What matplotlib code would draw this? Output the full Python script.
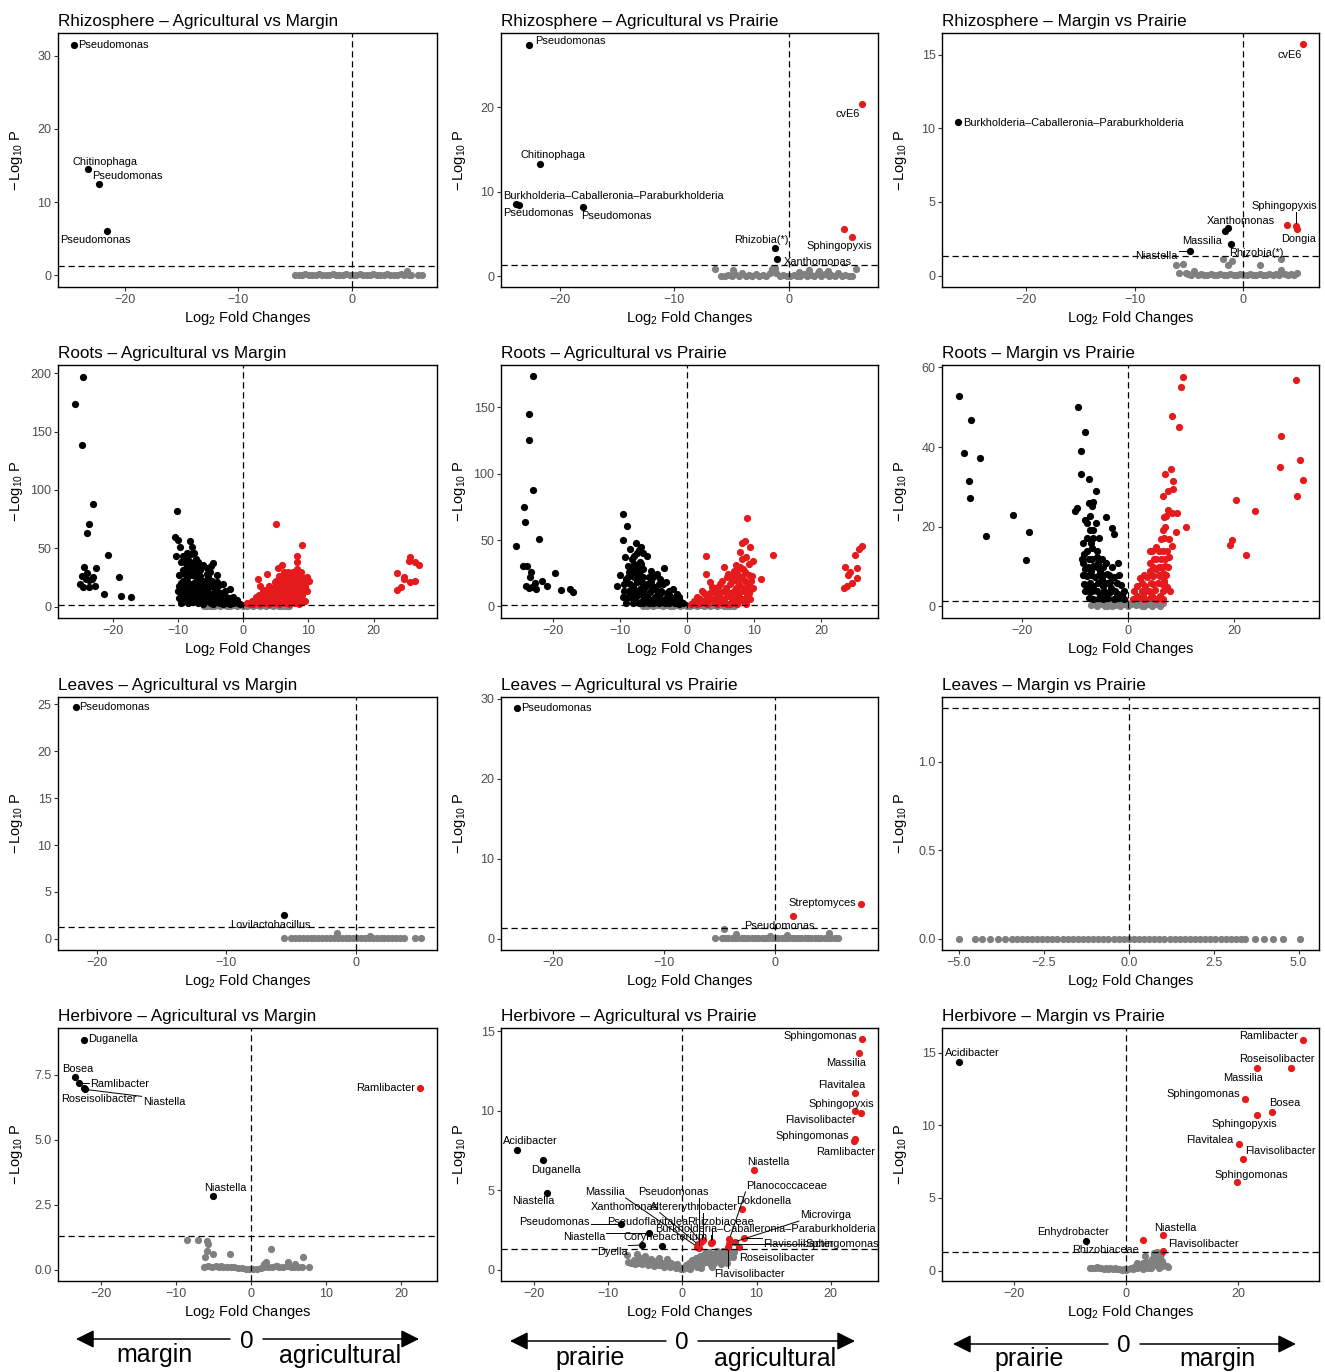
import matplotlib
matplotlib.use('Agg')
import matplotlib.pyplot as plt
from matplotlib.patches import FancyArrowPatch, ArrowStyle
import numpy as np

plt.rcParams['font.family'] = ['Liberation Sans', 'DejaVu Sans']
plt.rcParams['mathtext.fontset'] = 'custom'
plt.rcParams['mathtext.rm'] = 'Liberation Sans'
plt.rcParams['mathtext.it'] = 'Liberation Sans:italic'
plt.rcParams['mathtext.bf'] = 'Liberation Sans:bold'

# ======================= DATA =======================
TITLES = [
    'Rhizosphere – Agricultural vs Margin', 'Rhizosphere – Agricultural vs Prairie', 'Rhizosphere – Margin vs Prairie',
    'Roots – Agricultural vs Margin', 'Roots – Agricultural vs Prairie', 'Roots – Margin vs Prairie',
    'Leaves – Agricultural vs Margin', 'Leaves – Agricultural vs Prairie', 'Leaves – Margin vs Prairie',
    'Herbivore – Agricultural vs Margin', 'Herbivore – Agricultural vs Prairie', 'Herbivore – Margin vs Prairie',
]
BKC = 'Burkholderia–Caballeronia–Paraburkholderia'

# ---- Rhizosphere: Agricultural vs Margin ----
rhz_am_pts = [(-5.0,0.05),(-4.7,0.1),(-4.4,0.05),(-4.1,0.15),(-3.8,0.05),(-3.5,0.1),(-3.2,0.05),(-2.9,0.2),
              (-2.6,0.05),(-2.3,0.1),(-2.0,0.05),(-1.7,0.15),(-1.4,0.05),(-1.1,0.1),(-0.8,0.05),(-0.5,0.2),
              (-0.2,0.05),(0.1,0.1),(0.4,0.05),(0.7,0.15),(1.0,0.05),(1.3,0.1),(1.6,0.05),(1.9,0.2),(2.2,0.05),
              (2.5,0.1),(2.8,0.05),(3.1,0.15),(3.4,0.05),(3.7,0.1),(4.0,0.05),(4.3,0.2),(4.6,0.05),(4.9,0.55),
              (5.0,0.1),(5.2,0.05),(5.8,0.05),(6.2,0.05)]
rhz_am_lab = ['Pseudomonas', 'Chitinophaga', 'Pseudomonas', 'Pseudomonas']
rhz_am_lab_lfc = [-24.5, -23.3, -22.3, -21.6]
rhz_am_lab_nlp = [31.4, 14.5, 12.5, 6.0]

# ---- Rhizosphere: Agricultural vs Prairie ----
rhz_ap_pts = [(-6.46,0.8),(-5.9,0.05),(-5.6,0.05),(-5.3,0.1),(-5.0,0.05),(-4.86,0.75),(-4.7,0.25),(-4.4,0.05),
              (-4.1,0.3),(-3.8,0.05),(-3.5,0.1),(-3.2,0.05),(-2.9,0.2),(-2.6,0.05),(-2.3,0.1),(-2.0,0.05),
              (-1.7,0.3),(-1.45,0.8),(-1.2,1.0),(-1.1,0.4),(-0.8,0.05),(-0.5,0.15),(-0.2,0.05),(0.1,0.05),
              (0.4,0.1),(0.7,0.05),(0.9,0.5),(1.0,0.05),(1.3,0.2),(1.6,0.05),(1.77,0.7),(1.9,0.1),(2.2,0.05),
              (2.5,0.3),(2.6,0.55),(2.8,0.05),(3.1,0.2),(3.4,0.6),(3.5,0.05),(3.7,0.15),(4.0,0.05),(4.3,0.3),
              (4.6,0.05),(4.9,0.1),(5.2,0.05),(5.5,0.05),(5.85,0.8),(4.8,5.6)]
rhz_ap_lab = ['Pseudomonas', 'Chitinophaga', BKC, 'Pseudomonas', 'Pseudomonas', 'cvE6', 'Sphingopyxis',
              'Rhizobia(*)', 'Xanthomonas']
rhz_ap_lab_lfc = [-22.7, -21.75, -23.8, -23.6, -18.0, 6.4, 5.5, -1.2, -1.05]
rhz_ap_lab_nlp = [27.4, 13.3, 8.5, 8.4, 8.2, 20.4, 4.6, 3.3, 2.0]

# ---- Rhizosphere: Margin vs Prairie ----
rhz_mp_pts = [(-6.2,0.7),(-5.9,0.15),(-5.5,0.8),(-5.3,0.15),(-5.1,0.1),(-4.8,0.05),(-4.5,0.3),(-4.2,0.05),
              (-3.9,0.1),(-3.6,0.05),(-3.3,0.05),(-3.0,0.1),(-2.7,0.05),(-2.4,0.05),(-2.1,0.1),(-1.9,1.1),
              (-1.8,0.05),(-1.5,0.05),(-1.4,0.7),(-1.2,0.1),(-1.0,1.0),(-0.9,0.05),(-0.6,0.05),(-0.3,0.1),
              (0.0,0.05),(0.3,0.05),(0.6,0.1),(0.9,0.05),(1.2,0.05),(1.5,0.7),(1.5,0.1),(1.8,0.05),(2.1,0.05),
              (2.4,0.1),(2.7,0.05),(3.0,0.1),(3.3,0.05),(3.5,1.1),(3.5,0.4),(3.8,0.1),(4.1,0.05),(4.4,0.1),
              (4.7,0.05),(4.9,0.15),(4.05,3.46)]
rhz_mp_lab = [BKC, 'cvE6', 'Sphingopyxis', 'Dongia', 'Xanthomonas', 'Massilia', 'Rhizobia(*)', 'Niastella']
rhz_mp_lab_lfc = [-26.2, 5.5, 4.85, 4.96, -1.4, -1.7, -1.16, -4.9]
rhz_mp_lab_nlp = [10.4, 15.7, 3.35, 3.17, 3.2, 3.0, 2.15, 1.65]

# ---- Roots: Agricultural vs Margin ----
roots_am_pts = [
    (-24.5,197),(-25.8,174),(-24.7,138.5),(-23.0,88),(-23.6,71),(-23.9,63),(-20.8,44),(-22.5,33),(-24.4,34),
    (-23.9,29),(-24.7,26),(-24.1,24),(-23.2,24),(-23.7,23),(-24.6,17),(-23.7,17),(-22.7,18),(-19.0,25),
    (-21.4,11),(-18.7,9),(-17.2,8),(-23.0,25),(-25.0,19),
    (-10.2,82),(-10.5,60),(-10.0,57),(-9.7,51),(-8.2,56),(-7.9,51),(-10.3,43.5),(-9.3,43.5),(-9.0,38),
    (-7.2,41),(-4.6,37),(-8.4,35),(-6.1,36),(-9.8,27),(-7.7,31),(-6.6,31.5),(-5.1,30),(-8.7,25),(-7.1,23.5),
    (-5.4,25),(-4.1,21),(-3.1,19),(-8.9,18),(-7.1,16.5),(-6.1,15),(-4.6,16.5),(-2.1,15),(-7.9,12),(-6.6,11),
    (-5.1,11),(-3.6,12),(-1.5,8),(-8.4,6.5),(-7.1,5),(-5.6,5),(-4.1,6),(-2.6,5),(-1.3,4),(-0.8,3),(-7.7,3.7),
    (-6.1,2.3),(-4.6,2.3),(-3.1,2.0),(-2.0,2.0),(-8.7,9),(-7.4,21),(-5.9,19),(-6.6,26),(-8.2,19),(-4.9,6.5),
    (-3.8,9.4),(-2.8,9.4),(-9.4,12),(-8.7,29),(-9.5,20),(-9.0,14),(-8.5,10),(-8.0,8),(-7.5,14),(-7.0,10),
    (-6.5,7),(-6.0,9),(-5.5,14),(-5.0,20),(-4.5,12),(-4.0,3.5),(-3.5,6),(-3.0,4),(-2.5,3),(-1.8,6),(-1.0,5.5),
    (-0.5,2),(-6.8,18),(-7.9,27),(-5.8,22),(-6.3,3.5),(-9.2,31),(-8.0,45),(-8.5,40),(-7.5,36),(-6.9,33),
    (-4.0,27),(-5.0,35),
    (-9.5,3),(-8.5,3),(-7.0,3),(-5.0,3),(-3.5,3),(-1.5,3),(-9.8,7),(-9.0,7),(-7.8,7),(-6.8,7),(-5.3,7),
    (-4.5,7),(-3.3,7),(-2.2,7),(-10.0,13),(-9.2,13),(-8.3,13),(-6.8,13),(-5.8,13),(-4.2,13),(-2.8,13),
    (-9.8,18),(-8.2,18),(-6.3,18),(-5.2,18),(-3.8,18),(-9.3,22),(-8.6,22),(-6.3,22),(-4.8,22),(-9.0,28),
    (-8.3,28),(-7.2,28),(-5.6,28),(-8.8,33),(-7.8,33),(-5.5,33),(-9.6,38),(-8.1,38),(-6.9,38),(-8.6,46),(-7.5,46),
    (4.95,71),(9.0,52.6),(8.2,43),(8.3,38),(6.0,35.5),(5.4,32.7),(8.3,32),(3.6,28),(2.3,24),(9.8,25),
    (10.1,21.6),(6.6,26.5),(7.7,25),(7.1,20.8),(6.1,18),(4.8,20.8),(2.6,18),(5.6,15),(7.1,15),(8.7,15),
    (9.7,13),(4.3,12),(3.1,11),(6.6,11),(7.9,11),(2.0,8),(3.6,8),(5.4,8),(6.9,8),(8.4,8),(9.4,5),(1.3,5),
    (2.6,5),(4.1,5),(5.9,5),(7.4,5),(0.5,3),(1.8,3),(3.3,3),(4.8,3),(6.6,3),(7.9,3),(5.1,12),(6.4,22),
    (7.4,28),(8.2,19),(8.9,19),(5.9,25),(7.7,6.5),(4.6,9.4),(6.1,9.4),(1.0,2),(1.5,4),(2.2,6),(2.8,9),
    (3.8,13),(4.5,15.5),(5.2,18.5),(6.0,12),(6.8,14),(7.5,17),(8.0,22),(8.8,26),(7.2,10),(8.5,11),(9.0,4),
    (6.3,6),(5.6,10),(4.9,6),(3.0,13),(5.3,22),(7.8,30),(6.9,30),(8.6,28),(9.5,18),
    (1.5,2),(2.5,2),(4.0,2),(5.5,2),(7.0,2),(8.5,2),(1.8,6),(3.0,6),(4.3,6),(5.2,6),(6.0,6),(7.3,6),(8.2,6),
    (9.2,6),(2.4,10),(3.4,10),(4.9,10),(6.3,10),(7.5,10),(9.0,10),(3.4,14),(4.3,14),(5.3,14),(6.2,14),
    (7.6,14),(8.3,14),(9.2,14),(4.0,18),(5.5,18),(6.8,18),(7.6,18),(9.5,18),(5.0,22),(6.0,22),(7.3,22),
    (8.5,22),(9.3,22),(5.5,26),(6.3,26),(7.1,26),(8.1,26),(6.2,30),(7.6,30),(8.8,30),
    (25.6,42.7),(25.4,39),(26.3,38),(27.0,35.5),(23.6,28.7),(24.6,24),(26.3,21.6),(25.5,20.8),(24.2,17),
    (23.5,14),(24.7,25),
    (-6.0,0.1),(-5.5,0.4),(-5.0,0.7),(-4.5,0.3),(-4.0,1.0),(-3.5,0.5),(-3.0,1.1),(-2.5,0.3),(-2.0,0.8),
    (-1.5,1.2),(-1.0,0.5),(-0.5,0.9),(0.0,0.1),(0.5,0.8),(1.0,1.2),(1.5,0.4),(2.0,1.0),(2.5,0.6),(3.0,1.1),
    (3.5,0.3),(4.0,0.9),(4.5,0.5),(5.0,1.1),(5.5,0.3),(6.0,0.7),(6.5,0.2),(7.0,0.5)]

# ---- Roots: Agricultural vs Prairie ----
roots_ap_pts = [
    (-23.0,173),(-23.5,144.5),(-23.5,125),(-22.9,87.6),(-24.2,75),(-24.1,63.6),(-22.1,50.7),(-25.4,45.7),
    (-24.4,30.7),(-23.8,30.2),(-23.3,25.7),(-23.4,22),(-21.6,19.5),(-22.6,17.7),(-23.9,15.2),(-23.1,14.5),
    (-22.5,13.2),(-20.9,15.7),(-19.7,25),(-18.8,12.5),(-17.4,13.2),(-17.0,11.2),(-23.6,14.2),
    (-9.5,69.9),(-8.9,60.6),(-9.5,49.7),(-7.6,47.4),(-7.1,42.4),(-6.0,37.7),(-9.2,37.4),(-8.2,35.7),
    (-3.4,28.7),(-7.0,33.2),(-8.7,30.7),(-8.0,29.4),(-6.5,28.2),(-10.0,24),(-7.5,23.2),(-5.7,22),(-4.0,20.7),
    (-3.1,18.2),(-10.4,15.2),(-8.0,15.7),(-6.2,14.5),(-4.7,14.5),(-2.0,13.2),(-1.5,9.5),(-8.2,9.5),(-7.0,9.5),
    (-5.5,10.7),(-4.0,9.5),(-2.5,8.2),(-8.0,5.7),(-6.5,5.2),(-5.0,5.2),(-3.5,5.2),(-2.0,5.2),(-1.0,4.5),
    (-7.2,2.7),(-5.7,2.7),(-4.2,2.7),(-2.7,2.7),(-1.2,2.2),(-7.5,18.2),(-9.0,20.7),(-7.0,27),(-4.5,24.5),
    (-7.0,13.2),(-8.5,8.2),(-4.2,17),(-8.6,26),(-7.8,38),(-6.8,20),(-6.0,17),(-5.2,13),(-7.6,11),(-6.3,8),
    (-5.8,6.5),(-4.8,7.5),(-3.8,12),(-3.0,10.5),(-2.4,4),(-1.6,6.5),(-0.6,2.5),(-6.6,3.8),(-8.4,43),
    (-6.8,45),(-7.3,31),(-5.3,18.5),
    (-9.0,3),(-8.0,3),(-6.5,3),(-5.0,3),(-3.2,3),(-1.8,3),(-9.5,7),(-8.8,7),(-7.6,7),(-6.1,7),(-4.4,7),
    (-3.0,7),(-1.2,7),(-9.4,12),(-8.6,12),(-7.7,12),(-6.6,12),(-4.4,12),(-2.6,12),(-9.3,17),(-8.4,17),
    (-6.6,17),(-5.6,17),(-3.6,17),(-8.7,22),(-7.8,22),(-6.6,22),(-5.0,22),(-8.3,27),(-7.6,27),(-5.4,27),
    (-7.8,32),(-6.8,32),(-7.4,40),(-6.6,40),
    (8.9,66.4),(8.6,49),(8.2,47.4),(9.4,44.4),(8.0,40.7),(2.8,37.9),(12.9,38.9),(9.9,33.9),(8.2,35.7),
    (9.2,32),(5.5,29.4),(7.0,27),(8.0,29.4),(2.9,24.5),(11.1,20.7),(9.7,23.2),(6.0,22),(7.2,20.7),(8.2,22),
    (3.5,18.2),(5.0,17),(6.5,17),(8.0,15.7),(9.2,15.7),(2.2,12),(4.0,12),(5.5,12),(7.0,12),(8.5,12),(1.5,7),
    (3.0,8.2),(4.5,8.2),(6.0,8.2),(7.5,8.2),(9.0,8.2),(1.0,4.5),(2.5,4.5),(4.0,4.5),(5.5,4.5),(7.0,3.7),
    (8.5,3.7),(2.0,2.7),(5.2,2.7),(6.5,2.0),(7.7,18.2),(6.2,24.5),(8.7,25.7),(4.7,14.5),(0.6,2.2),(3.3,6),
    (4.3,10),(5.8,14),(6.6,10),(7.8,6),(8.9,10),(9.6,13),(7.4,31),(8.8,37),(6.8,23),(5.0,6.2),(3.8,15),
    (2.6,10),
    (1.5,2),(3.0,2),(4.5,2),(6.0,2),(7.5,2),(8.8,2),(2.0,6),(3.8,6),(5.3,6),(6.8,6),(8.3,6),(9.4,6),
    (3.4,10),(4.9,10),(6.3,10),(7.8,10),(9.3,10),(4.2,14),(5.8,14),(7.3,14),(8.6,14),(9.8,14),(5.3,19),
    (6.8,19),(8.6,19),(9.5,19),(6.8,24),(7.6,24),(9.2,24),(7.6,28),(8.4,28),
    (26.1,45.2),(25.6,43.2),(25.1,38.9),(23.6,29.4),(25.4,28.7),(24.4,26.2),(24.1,23.7),(25.4,21.2),
    (24.6,17.7),(23.9,15.7),(23.4,14),
    (-6.5,0.2),(-6.0,0.6),(-5.5,1.0),(-5.0,0.3),(-4.5,0.8),(-4.0,1.2),(-3.5,0.4),(-3.0,0.9),(-2.5,0.2),
    (-2.0,0.7),(-1.5,1.1),(-1.0,0.3),(-0.5,0.8),(0.0,0.1),(0.5,0.6),(1.0,1.0),(1.5,0.3),(2.0,0.9),(2.5,0.5),
    (3.0,1.1),(3.5,0.3),(4.0,0.8),(4.5,0.4),(5.0,1.0),(5.5,0.2),(6.0,0.6),(6.5,0.3),(7.0,0.2)]

# ---- Roots: Margin vs Prairie ----
roots_mp_pts = [
    (-32.0,52.9),(-29.7,46.9),(-31.1,38.6),(-28.1,37.3),(-30.1,31.5),(-30.0,27.2),(-21.7,23.0),(-26.9,17.7),
    (-18.8,18.7),(-19.4,11.7),
    (-9.6,50.1),(-8.2,43.7),(-8.9,39.1),(-8.9,33.2),(-7.5,32.0),(-6.2,29.0),(-10.1,23.9),(-9.7,24.6),
    (-7.4,26.0),(-6.6,26.2),(-6.9,25.1),(-4.3,22.5),(-3.0,19.8),(-2.8,18.1),(-8.2,21.6),(-7.2,22.8),
    (-6.7,19.1),(-7.9,17.3),(-6.6,17.1),(-5.5,17.1),(-6.9,14.6),(-8.4,13.1),(-7.5,11.9),(-6.0,12.5),
    (-4.2,10.9),(-1.9,10.8),(-8.2,9.4),(-6.6,10.2),(-5.3,9.0),(-7.9,7.7),(-6.3,7.3),(-4.1,8.1),(-2.8,7.3),
    (-8.4,5.6),(-6.6,5.2),(-4.7,5.2),(-1.4,5.4),(-7.2,3.6),(-5.3,3.2),(-3.5,3.6),(-1.9,3.2),(-6.6,1.9),
    (-4.7,1.9),(-2.8,1.9),(-0.9,1.9),(-5.7,11.0),(-8.5,11.0),(-7.2,19.3),(-5.0,6.9),(-3.5,6.1),(-7.8,4.5),
    (-6.0,4.0),(-4.0,3.0),(-2.2,2.5),(-5.5,8.0),(-7.0,9.0),(-3.2,4.6),(-1.2,2.8),
    (-7.5,2),(-5.5,2),(-3.8,2),(-1.8,2),(-8.2,4),(-6.8,4),(-4.6,4),(-2.6,4),(-0.8,4),(-7.3,6),(-5.8,6),
    (-4.0,6),(-2.2,6),(-8.6,8),(-7.0,8),(-4.8,8),(-3.6,8),(-1.8,8),(-7.7,10),(-6.0,10),(-4.7,10),(-3.0,10),
    (-8.8,12),(-6.8,12),(-5.0,12),(-7.8,14),(-6.0,14),(-8.5,16),(-7.0,16),(-7.8,21),(-6.2,21),
    (10.4,57.5),(9.9,55.0),(8.3,47.7),(9.6,45.0),(8.1,34.5),(7.0,33.3),(8.5,31.4),(7.5,29.1),(8.5,29.5),
    (6.6,27.8),(7.4,24.1),(8.3,23.5),(9.2,23.5),(10.8,20.0),(6.7,22.5),(7.1,22.8),(6.6,19.2),(9.0,18.7),
    (6.7,17.3),(8.2,15.2),(4.1,13.9),(5.3,15.0),(4.4,13.9),(6.5,13.8),(4.0,11.0),(6.1,11.9),(7.7,12.3),
    (6.9,10.2),(5.3,9.4),(2.2,7.1),(3.5,7.3),(6.0,7.7),(1.6,5.1),(3.1,5.2),(4.7,5.6),(6.3,5.6),(7.2,4.8),
    (1.6,2.7),(2.8,2.7),(4.4,2.7),(6.0,2.7),(7.9,4.0),(0.9,1.9),(5.3,11.9),(4.7,7.7),(6.6,8.5),(2.5,4.0),
    (3.8,3.8),(5.0,4.2),(6.8,6.3),(4.0,9.0),(5.8,10.0),(3.0,1.9),(5.2,1.9),(6.5,1.9),
    (2.0,2),(4.0,2),(5.8,2),(1.0,4),(3.2,4),(6.6,4),(2.5,6),(4.2,6),(5.5,6),(6.8,6),(3.0,8),(4.5,8),(5.8,8),
    (7.1,8),(4.6,10),(6.2,10),(7.4,10),(4.9,12),(7.0,12),(5.8,14),(7.3,14),(6.2,17),(7.6,17),(7.0,20),
    (31.6,56.9),(28.9,42.9),(32.5,36.7),(28.6,34.9),(33.0,31.7),(31.8,27.6),(20.4,26.7),(24.0,24.0),
    (19.6,16.7),(19.2,15.4),(22.2,12.9),
    (-7.0,0.3),(-6.5,0.8),(-6.0,0.2),(-5.5,1.0),(-5.0,0.5),(-4.5,0.9),(-4.0,0.2),(-3.5,0.7),(-3.0,1.1),
    (-2.5,0.4),(-2.0,0.9),(-1.5,0.2),(-1.0,0.6),(-0.5,1.0),(0.0,0.1),(0.5,0.7),(1.0,1.1),(1.5,0.3),(2.0,0.8),
    (2.5,0.2),(3.0,1.0),(3.5,0.5),(4.0,0.9),(4.5,0.2),(5.0,0.7),(5.5,1.1),(6.0,0.4),(6.5,0.8),(-6.0,1.2),
    (-3.0,0.1),(3.0,0.1),(6.0,0.1),(-4.5,0.0),(1.5,1.2)]

# ---- Leaves: Agricultural vs Margin ----
lv_am_pts = [(-5.55,0.05),(-5.0,0.05),(-4.7,0.05),(-4.4,0.05),(-4.1,0.05),(-3.8,0.05),(-3.5,0.05),(-3.2,0.05),
             (-2.9,0.05),(-2.6,0.05),(-2.3,0.05),(-2.0,0.05),(-1.7,0.05),(-1.44,0.64),(-1.4,0.05),(-1.1,0.05),
             (-0.8,0.05),(-0.5,0.05),(-0.2,0.05),(0.1,0.05),(0.4,0.05),(0.7,0.05),(1.0,0.05),(1.08,0.3),
             (1.3,0.05),(1.6,0.05),(1.9,0.05),(2.2,0.05),(2.5,0.05),(2.8,0.05),(3.1,0.05),(3.4,0.05),(3.7,0.05),
             (4.55,0.05),(5.0,0.05)]
lv_am_lab = ['Pseudomonas', 'Lovilactobacillus']
lv_am_lab_lfc = [-21.6, -5.55]
lv_am_lab_nlp = [24.7, 2.5]

# ---- Leaves: Agricultural vs Prairie ----
lv_ap_pts = [(-5.41,0.05),(-4.8,0.05),(-4.57,1.25),(-4.5,0.05),(-4.2,0.05),(-3.9,0.05),(-3.55,0.54),(-3.6,0.05),
             (-3.3,0.05),(-3.0,0.05),(-2.7,0.05),(-2.4,0.05),(-2.1,0.05),(-1.8,0.05),(-1.5,0.05),(-1.2,0.05),
             (-0.9,0.05),(-0.6,0.05),(-0.45,0.33),(-0.3,0.05),(0.0,0.05),(0.3,0.05),(0.6,0.05),(0.9,0.05),
             (1.05,0.42),(1.2,0.05),(1.5,0.05),(1.8,0.05),(2.1,0.05),(2.4,0.05),(2.7,0.05),(3.0,0.05),(3.3,0.05),
             (3.6,0.05),(3.9,0.05),(4.2,0.05),(4.5,0.05),(4.8,0.05),(4.9,0.67),(5.1,0.05),(5.4,0.05),(5.7,0.05)]
lv_ap_lab = ['Pseudomonas', 'Streptomyces', 'Pseudomonas']
lv_ap_lab_lfc = [-23.3, 7.8, 1.65]
lv_ap_lab_nlp = [28.8, 4.37, 2.79]

# ---- Leaves: Margin vs Prairie ----
lv_mp_lfc = [-5.0,-4.53,-4.33,-4.09,-3.86,-3.65,-3.45,-3.3,-3.15,-3.0,-2.85,-2.7,-2.55,-2.4,-2.25,-2.1,-1.95,
             -1.8,-1.65,-1.5,-1.35,-1.2,-1.05,-0.9,-0.75,-0.6,-0.45,-0.3,-0.15,0.0,0.15,0.3,0.45,0.6,0.75,0.9,
             1.05,1.2,1.35,1.5,1.65,1.8,1.95,2.1,2.25,2.4,2.55,2.7,2.85,3.0,3.15,3.3,3.42,3.71,3.98,4.24,4.53,5.03]
lv_mp_nlp = [0.0] * len(lv_mp_lfc)

# ---- Herbivore: Agricultural vs Margin ----
hb_am_pts = [(-6.2,0.1),(-5.7,0.12),(-5.2,0.1),(-4.7,0.12),(-4.2,0.1),(-3.7,0.1),(-3.2,0.1),(-2.7,0.08),
             (-2.2,0.08),(-1.7,0.06),(-1.2,0.05),(-0.7,0.03),(-0.2,0.02),(0.3,0.02),(0.8,0.04),(1.3,0.06),
             (1.8,0.08),(2.3,0.1),(2.8,0.1),(3.3,0.12),(3.8,0.1),(4.3,0.1),(4.8,0.12),(5.3,0.1),(5.8,0.1),
             (6.3,0.1),(6.8,0.1),(-8.5,1.14),(-7.1,1.14),(-5.8,1.1),(-5.7,1.0),(-5.8,0.7),(-6.1,0.5),(-5.0,0.6),
             (-2.8,0.6),(2.7,0.8),(7.0,0.5),(7.7,0.1),(2.0,0.3),(1.8,0.2),(5.0,0.3),(5.9,0.2),(-4.0,0.15),
             (3.5,0.15)]
hb_am_lab = ['Duganella', 'Bosea', 'Ramlibacter', 'Roseisolibacter', 'Niastella', 'Niastella', 'Ramlibacter']
hb_am_lab_lfc = [-22.3, -23.4, -22.9, -22.3, -22.1, -5.1, 22.6]
hb_am_lab_nlp = [8.82, 7.4, 7.18, 7.0, 6.93, 2.83, 6.99]

# ---- Herbivore: Agricultural vs Prairie ----
hb_ap_pts = [(-7.5,0.95),(-7.4,0.5),(-7.0,0.4),(-6.6,0.6),(-6.2,1.0),(-6.0,0.45),(-5.7,0.75),(-5.4,0.35),
             (-5.0,0.9),(-5.0,0.55),(-4.6,0.3),(-4.3,0.7),(-4.0,0.4),(-3.6,0.55),(-3.2,0.77),(-3.2,0.3),
             (-2.8,0.45),(-2.5,0.2),(-2.1,0.69),(-2.0,0.35),(-1.7,0.15),(-1.5,0.45),(-1.2,0.25),(-0.9,0.1),
             (-0.8,0.35),(-0.5,0.15),(-0.2,0.05),(-4.5,0.5),(-6.4,0.35),(-3.8,0.25),
             (0.1,0.03),(0.3,0.15),(0.5,0.3),(0.8,0.1),(0.9,0.45),(1.2,0.25),(1.3,0.6),(1.6,0.4),(1.8,0.75),
             (2.0,0.2),(2.2,0.55),(2.4,0.9),(2.7,0.35),(2.8,0.7),(3.0,1.05),(3.2,0.5),(3.4,0.85),(3.6,1.15),
             (3.8,0.3),(3.9,0.65),(4.1,1.0),(4.3,0.45),(4.5,0.8),(4.6,1.2),(4.8,0.6),(5.0,1.0),(5.2,0.35),
             (5.3,0.8),(5.5,1.2),(5.7,0.6),(5.9,1.0),(6.1,0.75),(6.3,1.2),(6.5,0.95),(6.8,0.8),(7.0,1.1),
             (6.0,0.4),(4.0,0.15),(1.0,0.05),(2.5,0.1)]
hb_ap_lab = ['Sphingomonas', 'Massilia', 'Flavitalea', 'Sphingopyxis', 'Flavisolibacter', 'Sphingomonas',
             'Ramlibacter', 'Niastella', 'Dokdonella', 'Planococcaceae', 'Microvirga', 'Flavisolibacter',
             'Sphingomonas', 'Roseisolibacter', 'Flavisolibacter', BKC, 'Rhizobiaceae', 'Altererythrobacter',
             'Pseudoflavitalea', 'Pseudomonas', 'Massilia', 'Xanthomonas', 'Acidibacter', 'Duganella',
             'Niastella', 'Pseudomonas', 'Niastella', 'Dyella', 'Corynebacterium']
hb_ap_lab_lfc = [24.2, 23.8, 23.3, 24.1, 23.3, 23.3, 23.1, 9.7, 8.1, 6.35, 7.1, 8.25, 6.35, 7.6, 6.2,
                 3.8, 4.0, 2.8, 2.5, 2.3, 2.0, 2.1, -22.3, -18.8, -18.3, -8.3, -4.46, -5.5, -2.8]
hb_ap_lab_nlp = [14.5, 13.6, 11.1, 9.85, 9.96, 8.2, 8.1, 6.3, 3.85, 1.94, 1.77, 1.98, 1.63, 1.42, 1.42,
                 1.7, 1.78, 1.9, 1.75, 1.35, 1.45, 1.6, 7.56, 6.9, 4.85, 2.88, 2.31, 1.56, 1.52]

# ---- Herbivore: Margin vs Prairie ----
hb_mp_pts = [(-6.4,0.18),(-6.0,0.2),(-5.6,0.15),(-5.2,0.22),(-4.8,0.15),(-4.4,0.2),(-4.0,0.12),(-3.6,0.2),
             (-3.2,0.12),(-2.8,0.18),(-2.4,0.1),(-2.0,0.15),(-1.6,0.08),(-1.2,0.12),(-0.8,0.05),(-0.4,0.08),
             (0.0,0.02),(0.4,0.08),(0.8,0.15),(1.2,0.1),(1.5,0.25),(1.9,0.5),(2.0,0.15),(2.4,0.3),(2.8,0.2),
             (3.0,0.5),(3.3,0.98),(3.5,0.3),(3.8,0.6),(4.0,0.2),(4.3,0.45),(4.6,0.8),(4.9,1.2),(5.0,0.35),
             (5.3,0.7),(5.5,1.25),(5.7,0.5),(6.0,1.0),(6.1,0.87),(6.2,1.15),(6.4,0.64),(6.5,0.3),(6.8,0.4),
             (7.25,0.3),(7.5,0.25),(5.0,1.05),(4.4,0.15),(3.0,0.1),(5.8,0.2)]
hb_mp_lab = ['Ramlibacter', 'Roseisolibacter', 'Massilia', 'Sphingomonas', 'Bosea', 'Sphingopyxis', 'Flavitalea',
             'Flavisolibacter', 'Sphingomonas', 'Niastella', 'Rhizobiaceae', 'Flavisolibacter', 'Acidibacter',
             'Enhydrobacter']
hb_mp_lab_lfc = [31.6, 29.4, 23.3, 21.2, 26.0, 23.3, 20.1, 20.8, 19.8, 6.65, 2.97, 6.65, -29.8, -7.13]
hb_mp_lab_nlp = [15.9, 13.97, 13.92, 11.84, 10.95, 10.7, 8.72, 7.65, 6.07, 2.43, 2.13, 1.33, 14.38, 2.06]

# direction words under each column
ARROW_WORDS = [('margin', 'agricultural'), ('prairie', 'agricultural'), ('prairie', 'margin')]

P_CUTOFF = 0.05

# ======================= LAYOUT =======================
W, H = 1325, 1372
COL_L = [58, 501, 942]
COL_R = [437, 878, 1319]
ROW_T = [33, 365, 697, 1028]
ROW_B = [287, 618, 950, 1281]

LIMITS = [
    ((-25.9, 7.5), (-1.58, 33.1)), ((-25.15, 7.77), (-1.3, 28.8)), ((-27.7, 6.96), (-0.78, 16.48)),
    ((-28.4, 29.7), (-9.85, 207)), ((-27.7, 28.5), (-8.65, 181.6)), ((-35.2, 36.0), (-2.9, 60.6)),
    ((-22.97, 6.25), (-1.2, 25.8)), ((-24.7, 9.3), (-1.4, 30.2)), ((-5.5, 5.6), (-0.065, 1.366)),
    ((-25.7, 24.8), (-0.44, 9.29)), ((-24.5, 26.4), (-0.7, 15.2)), ((-32.8, 34.4), (-0.72, 16.7)),
]
TICKS = [
    ([-20, -10, 0], [0, 10, 20, 30]), ([-20, -10, 0], [0, 10, 20]), ([-20, -10, 0], [0, 5, 10, 15]),
    ([-20, -10, 0, 10, 20], [0, 50, 100, 150, 200]), ([-20, -10, 0, 10, 20], [0, 50, 100, 150]),
    ([-20, 0, 20], [0, 20, 40, 60]),
    ([-20, -10, 0], [0, 5, 10, 15, 20, 25]), ([-20, -10, 0], [0, 10, 20, 30]),
    ([-5, -2.5, 0, 2.5, 5], [0, 0.5, 1.0]),
    ([-20, -10, 0, 10, 20], [0, 2.5, 5, 7.5]), ([-20, -10, 0, 10, 20], [0, 5, 10, 15]), ([-20, 0, 20], [0, 5, 10, 15]),
]
TXT_POS = {
    0: [(-21.0, 31.5), (-21.8, 15.5), (-19.8, 13.6), (-22.6, 4.8)],
    1: [(-19.1, 27.8), (-20.6, 14.3), (-15.3, 9.5), (-21.9, 7.5), (-15.1, 7.15), (5.15, 19.2), (4.4, 3.5),
        (-2.45, 4.3), (2.5, 1.7)],
    2: [(-15.6, 10.35), (4.3, 15.0), (3.74, 4.7), (5.1, 2.5), (-0.2, 3.73), (-3.8, 2.33), (1.17, 1.56), (-7.96, 1.31)],
    6: [(-18.6, 24.7), (-6.6, 1.46)],
    7: [(-19.7, 28.8), (4.3, 4.45), (0.45, 1.66)],
    9: [(-18.4, 8.88), (-23.1, 7.7), (-17.5, 7.13), (-20.2, 6.55), (-11.6, 6.43), (-3.4, 3.15), (18.0, 6.98)],
    10: [(18.6, 14.7), (22.1, 13.0), (21.5, 11.6), (21.5, 10.4), (18.6, 9.4), (17.5, 8.44), (22.0, 7.4),
         (11.6, 6.77), (11.0, 4.33), (14.1, 5.27), (19.3, 3.44), (15.6, 1.62), (21.6, 1.62), (12.8, 0.73),
         (9.05, -0.25), (11.2, 2.56), (5.2, 3.02), (1.6, 3.92), (-4.7, 3.02), (-1.2, 4.9), (-10.5, 4.9),
         (-7.8, 3.98), (-20.5, 8.08), (-17.1, 6.3), (-20.1, 4.3), (-17.3, 3.02), (-13.3, 2.04), (-9.5, 1.15),
         (-2.3, 2.04)],
    11: [(25.4, 16.17), (26.9, 14.56), (20.9, 13.28), (13.7, 12.18), (28.3, 11.52), (21.1, 10.08), (15.0, 9.0),
         (27.5, 8.2), (22.3, 6.6), (8.7, 2.93), (-3.7, 1.42), (13.8, 1.83), (-27.4, 14.95), (-9.4, 2.63)],
}
# bottom arrows (pixel coords): left tip, left end, right start, right tip, arrow y, zero x, zero baseline,
# left word x, left baseline, right word x, right baseline
ARROW_GEOM = [
    (76, 230, 263, 419, 1339, 247, 1348, 154, 1362, 340, 1363),
    (510, 666, 698, 855, 1341, 682, 1349, 590, 1365, 775, 1366),
    (953, 1108, 1140, 1296, 1344, 1124, 1352, 1029, 1366, 1217, 1366),
]

BLACK, RED, GREY = '#000000', '#E41A1C', '#808080'
PT = 27


def split(pts):
    a = np.array(pts, dtype=float)
    return a[:, 0], a[:, 1]


PANELS = [
    (split(rhz_am_pts), rhz_am_lab, rhz_am_lab_lfc, rhz_am_lab_nlp),
    (split(rhz_ap_pts), rhz_ap_lab, rhz_ap_lab_lfc, rhz_ap_lab_nlp),
    (split(rhz_mp_pts), rhz_mp_lab, rhz_mp_lab_lfc, rhz_mp_lab_nlp),
    (split(roots_am_pts), [], [], []),
    (split(roots_ap_pts), [], [], []),
    (split(roots_mp_pts), [], [], []),
    (split(lv_am_pts), lv_am_lab, lv_am_lab_lfc, lv_am_lab_nlp),
    (split(lv_ap_pts), lv_ap_lab, lv_ap_lab_lfc, lv_ap_lab_nlp),
    ((np.array(lv_mp_lfc), np.array(lv_mp_nlp)), [], [], []),
    (split(hb_am_pts), hb_am_lab, hb_am_lab_lfc, hb_am_lab_nlp),
    (split(hb_ap_pts), hb_ap_lab, hb_ap_lab_lfc, hb_ap_lab_nlp),
    (split(hb_mp_pts), hb_mp_lab, hb_mp_lab_lfc, hb_mp_lab_nlp),
]

fig = plt.figure(figsize=(W / 100, H / 100), dpi=100)
thr = -np.log10(P_CUTOFF)
labels_drawn = []

for i, ((px_, py_), names, llfc, lnlp) in enumerate(PANELS):
    r, c = divmod(i, 3)
    l, rr, t, b = COL_L[c], COL_R[c], ROW_T[r], ROW_B[r]
    wpx, hpx = rr - l, b - t
    ax = fig.add_axes([l / W, 1 - b / H, wpx / W, hpx / H])
    x = np.concatenate([px_, np.array(llfc, dtype=float)])
    y = np.concatenate([py_, np.array(lnlp, dtype=float)])
    sig = y > thr
    ax.scatter(x[~sig], y[~sig], s=PT, c=GREY, linewidths=0, zorder=2)
    m = sig & (x < 0)
    ax.scatter(x[m], y[m], s=PT, c=BLACK, linewidths=0, zorder=3)
    m = sig & (x > 0)
    ax.scatter(x[m], y[m], s=PT, c=RED, linewidths=0, zorder=3)
    ax.axhline(thr, color='black', lw=0.9, ls=(0, (5, 3)), zorder=4)
    ax.axvline(0, color='black', lw=0.9, ls=(0, (5, 3)), zorder=4)
    if names:
        for nm, lx, ly, (tx, ty) in zip(names, llfc, lnlp, TXT_POS[i]):
            tobj = ax.text(tx, ty, nm, ha='center', va='center', fontsize=7.9, color='black', zorder=6)
            labels_drawn.append((ax, tobj, lx, ly))
    (xl, yl) = LIMITS[i]
    ax.set_xlim(*xl)
    ax.set_ylim(*yl)
    xt, yt = TICKS[i]
    ax.set_xticks(xt)
    ax.set_yticks(yt)
    ax.tick_params(direction='out', length=3.2, width=0.8, color='#333333', labelsize=9,
                   labelcolor='#4D4D4D', pad=1.5)
    for sp in ax.spines.values():
        sp.set_linewidth(1.0)
        sp.set_color('black')
    ax.set_title(TITLES[i], loc='left', fontsize=12.3, pad=5)
    ax.set_xlabel(r'$\mathrm{Log}_{2}$ Fold Changes', fontsize=10.5)
    ax.xaxis.set_label_coords(0.5, -22.0 / hpx)
    ax.set_ylabel(r'$-\,\mathrm{Log}_{10}\ \mathrm{P}$', fontsize=10.5)
    ax.yaxis.set_label_coords(-33.0 / wpx, 0.5)

# connector segments (label box -> point), drawn only when the label sits away from its point
fig.canvas.draw()
renderer = fig.canvas.get_renderer()
for ax, tobj, lx, ly in labels_drawn:
    bb = tobj.get_window_extent(renderer)
    ptx, pty = ax.transData.transform((lx, ly))
    x0, x1, y0, y1 = bb.x0 - 1.0, bb.x1 + 1.0, bb.y0 - 1.0, bb.y1 + 1.0
    nx = min(max(ptx, x0), x1)
    ny = min(max(pty, y0), y1)
    d = np.hypot(ptx - nx, pty - ny)
    if d > 6.0:
        ex = ptx - (ptx - nx) / d * 3.0
        ey = pty - (pty - ny) / d * 3.0
        seg = ax.transData.inverted().transform([(nx, ny), (ex, ey)])
        ax.plot(seg[:, 0], seg[:, 1], color='black', lw=0.7, zorder=5, clip_on=False)


def fp(xp, yp):
    return (xp / W, 1 - yp / H)


style = ArrowStyle('-|>', head_length=11, head_width=5.5)
for (lt, le, rs, rt, ay, zx, zy, lwx, lwy, rwx, rwy), (lw_, rw_) in zip(ARROW_GEOM, ARROW_WORDS):
    for a0, a1 in ((le, lt), (rs, rt)):
        fig.add_artist(FancyArrowPatch(fp(a0, ay), fp(a1, ay), transform=fig.transFigure, arrowstyle=style,
                                       mutation_scale=1, lw=1.1, color='black', shrinkA=0, shrinkB=0))
    fig.text(*fp(zx, zy), '0', fontsize=17.5, ha='center', va='baseline')
    fig.text(*fp(lwx, lwy), lw_, fontsize=18, ha='center', va='baseline')
    fig.text(*fp(rwx, rwy), rw_, fontsize=18, ha='center', va='baseline')

fig.savefig('out.png', dpi=100)
